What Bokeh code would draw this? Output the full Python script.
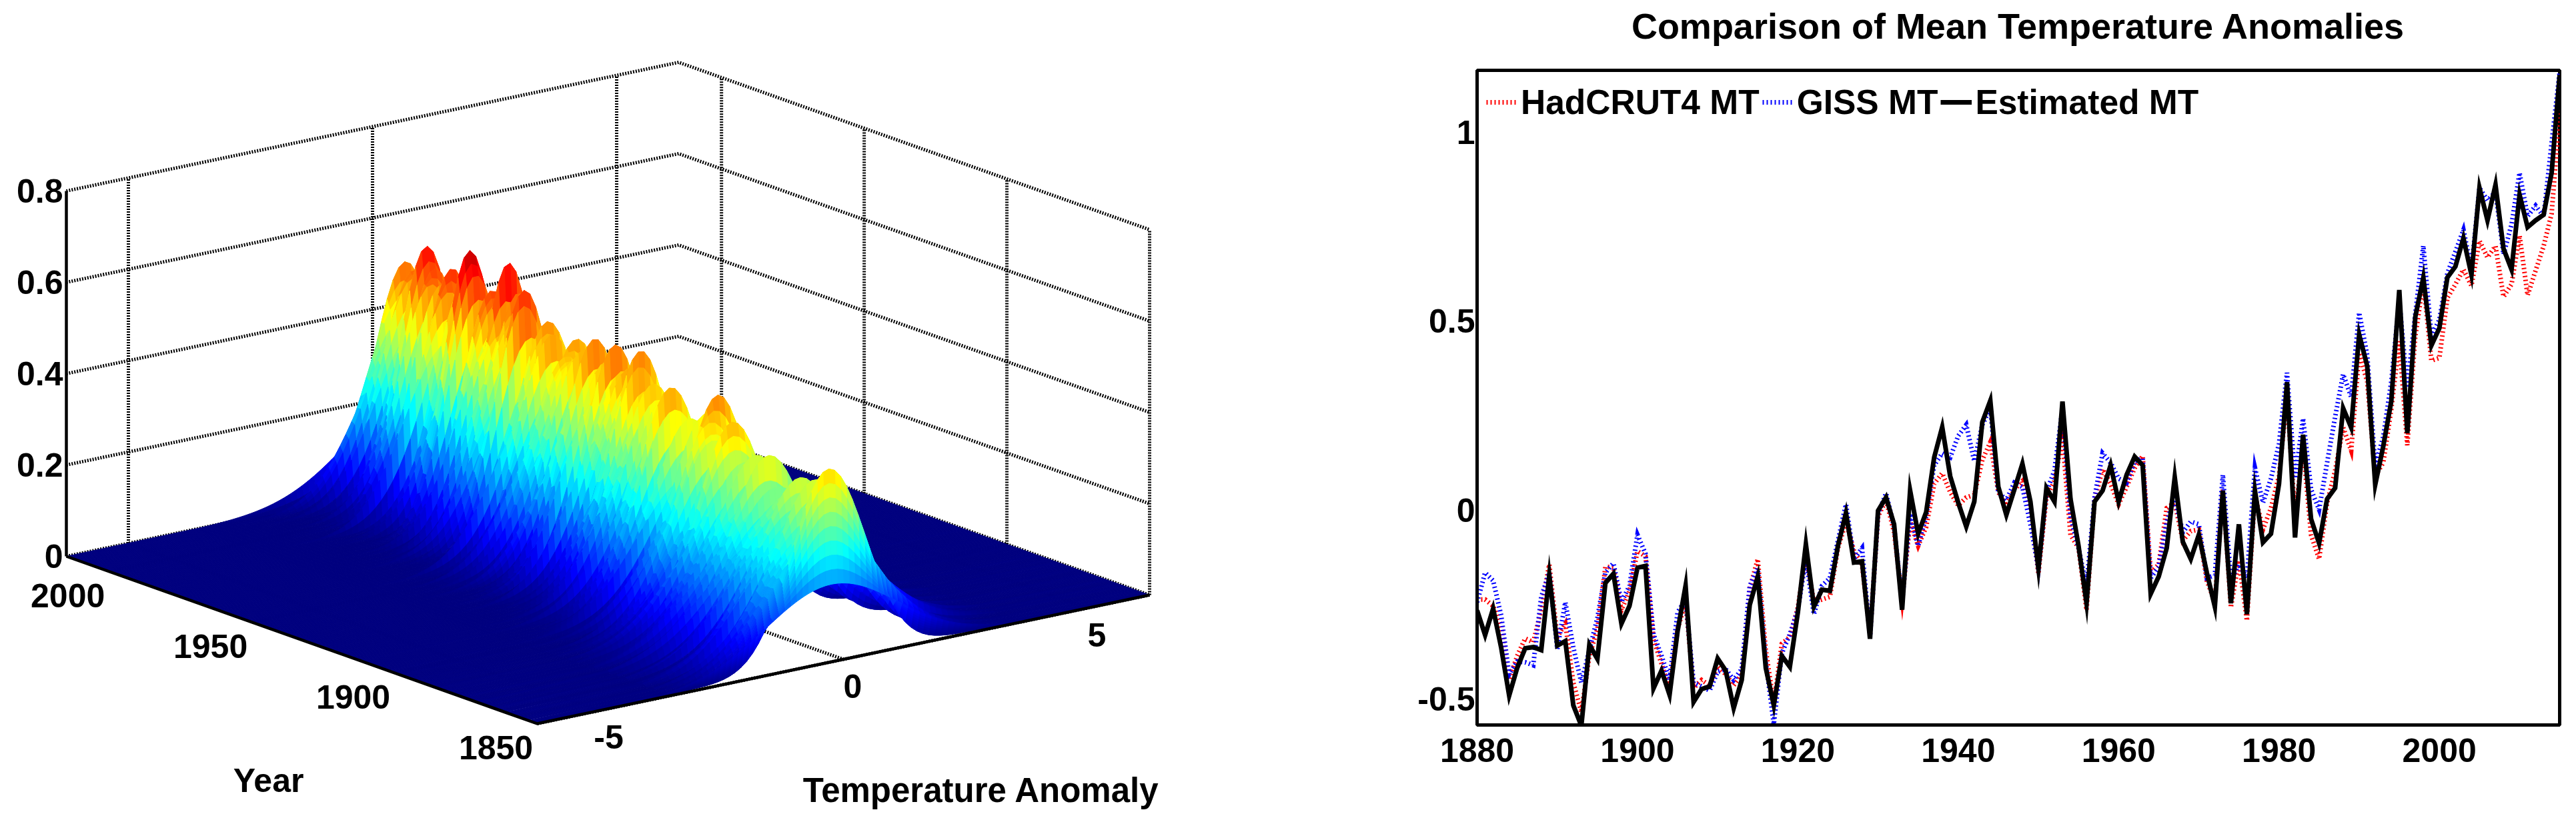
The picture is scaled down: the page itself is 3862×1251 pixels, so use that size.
import numpy as np
from bokeh.plotting import figure
from bokeh.layouts import row, column
from bokeh.core.properties import value
from bokeh.models import Range1d, FixedTicker, Legend, LegendItem, Spacer
from bokeh.embed import file_html
from bokeh.resources import INLINE

FONT = "Liberation Sans"

# ---------- right panel data ----------
mt_years = list(range(1880, 2016))
estimated_mt = [
    -.265,-.33,-.26,-.363,-.49,-.417,-.365,-.362,-.37,-.172,
    -.358,-.346,-.516,-.57,-.356,-.393,-.192,-.168,-.30,-.253,
    -.152,-.147,-.471,-.424,-.488,-.32,-.20,-.507,-.473,-.466,
    -.392,-.424,-.523,-.449,-.25,-.175,-.417,-.516,-.385,-.414,
    -.27,-.09,-.255,-.21,-.213,-.094,-.007,-.138,-.135,-.34,
    -.001,.034,-.037,-.263,.052,-.062,-.005,.14,.22,.09,
    .02,-.043,.023,.233,.29,.062,-.012,.055,.123,.023,
    -.154,.059,.023,.288,.03,-.094,-.246,.023,.052,.119,
    .023,.094,.142,.119,-.221,-.175,-.10,.087,-.083,-.129,
    -.065,-.165,-.255,.052,-.246,-.037,-.275,.052,-.085,-.062,
    .07,.339,-.072,.20,-.023,-.087,.03,.059,.27,.219,
    .465,.382,.068,.169,.288,.583,.204,.512,.616,.436,
    .482,.616,.645,.72,.623,.853,.767,.861,.692,.637,
    .835,.749,.767,.782,.893,1.152]
giss_mt = [
    -.243,-.165,-.186,-.278,-.434,-.40,-.402,-.41,-.229,-.165,
    -.367,-.243,-.363,-.456,-.37,-.285,-.165,-.14,-.243,-.20,
    -.065,-.115,-.328,-.385,-.449,-.27,-.236,-.456,-.466,-.477,
    -.427,-.42,-.449,-.42,-.20,-.154,-.40,-.566,-.378,-.328,
    -.264,-.129,-.275,-.20,-.179,-.08,.016,-.129,-.10,-.335,
    -.009,.045,-.044,-.243,-.009,-.094,-.016,.119,.151,.14,
    .197,.226,.13,.226,.27,.048,.027,.073,.062,-.037,
    -.154,.048,.105,.27,-.016,-.10,-.20,.034,.151,.126,
    .084,.073,.13,.137,-.179,-.15,-.03,.034,-.058,-.03,
    -.037,-.179,-.172,.094,-.186,-.143,-.179,.112,.02,.084,
    .176,.364,.084,.243,.055,.002,.126,.247,.36,.30,
    .523,.41,.119,.194,.34,.555,.324,.52,.70,.461,
    .504,.627,.684,.742,.637,.853,.82,.842,.677,.756,
    .893,.778,.806,.778,.972,1.16]
hadcrut4_mt = [
    -.236,-.236,-.253,-.306,-.449,-.385,-.339,-.349,-.264,-.143,
    -.335,-.30,-.456,-.534,-.385,-.314,-.15,-.15,-.264,-.214,
    -.108,-.122,-.342,-.406,-.477,-.314,-.243,-.47,-.449,-.463,
    -.413,-.434,-.463,-.434,-.207,-.129,-.37,-.512,-.353,-.335,
    -.257,-.115,-.243,-.236,-.229,-.10,-.03,-.108,-.143,-.328,
    -.016,.027,-.058,-.236,-.03,-.094,-.044,.07,.098,.048,
    .013,.034,.041,.133,.18,.048,.013,.055,.077,.006,
    -.168,.034,.077,.19,-.065,-.10,-.264,.027,.109,.07,
    .016,.062,.112,.144,-.165,-.143,.006,.02,-.08,-.055,
    -.051,-.186,-.243,.055,-.257,-.133,-.292,.041,-.051,.006,
    .091,.302,-.016,.169,-.065,-.129,.02,.105,.219,.158,
    .417,.34,.091,.126,.267,.447,.172,.461,.606,.396,
    .403,.562,.598,.637,.594,.713,.669,.699,.565,.598,
    .727,.569,.634,.699,.785,1.058]
mt_x_ticks = [1880, 1900, 1920, 1940, 1960, 1980, 2000]
mt_y_ticks = [-0.5, 0, 0.5, 1]
mt_y_labels = ["-0.5", "0", "0.5", "1"]

# ---------- left panel data ----------
# peak height of the density ridge of every year, 1850 .. 2015
ridge_height = [
    .17,.42,.30,.27,.31,.26,.30,.382,.28,.24,
    .30,.25,.31,.372,.27,.24,.30,.33,.26,.31,
    .28,.24,.33,.29,.396,.28,.25,.33,.28,.385,
    .27,.33,.25,.36,.30,.27,.38,.44,.30,.26,
    .35,.29,.39,.31,.37,.42,.474,.33,.29,.428,
    .31,.38,.29,.41,.32,.39,.30,.422,.35,.466,
    .33,.41,.30,.43,.35,.31,.42,.33,.45,.36,
    .43,.34,.479,.38,.45,.35,.50,.39,.46,.35,
    .45,.37,.504,.40,.33,.46,.38,.35,.45,.37,
    .498,.39,.33,.45,.37,.46,.34,.44,.35,.42,
    .33,.41,.43,.46,.36,.474,.34,.43,.45,.36,
    .46,.38,.48,.40,.517,.42,.545,.40,.35,.47,
    .37,.48,.40,.517,.43,.58,.41,.49,.38,.48,
    .51,.39,.488,.44,.536,.59,.41,.50,.38,.49,
    .40,.50,.37,.48,.527,.40,.49,.36,.47,.39,
    .48,.51,.39,.49,.552,.41,.457,.49,.37,.47,
    .485,.38,.34,.42,.493,.20]
# ridge centre for each decade 1850s .. 2010s
decade_center = [-.245,-.19,-.14,-.09,-.04,.01,.065,.115,.17,.22,.27,.32,.375,.425,.48,.53,.58]
# year-to-year shift of the ridge before the temperature series starts, 1850 .. 1879
early_shift = [.0,.0,.0,.0,.0,.0,-.05,.06,-.14,.1,
               -.09,.15,-.06,.05,-.15,.12,-.03,.08,-.1,.06,
               .14,-.08,.05,-.14,.0,.09,-.06,.12,-.09,.03]
year_ticks = [2000, 1950, 1900, 1850]
temp_ticks = [-5, 0, 5]
z_ticks = [0, 0.2, 0.4, 0.6, 0.8]
z_labels = ["0", "0.2", "0.4", "0.6", "0.8"]

# ---------- 3-D view ----------
YEAR_MIN, YEAR_MAX = 1850, 2015
T_MIN, T_MAX = -6.27, 6.27
Z_MAX = 0.8


def project(year, temp, z):
    year, temp, z = np.asarray(year, float), np.asarray(temp, float), np.asarray(z, float)
    u = (YEAR_MAX - year) / (YEAR_MAX - YEAR_MIN)
    v = (temp - T_MIN) / (T_MAX - T_MIN)
    return 99 + 706 * u + 918 * v, 834 + 251 * u - 193 * v - 548 * z / Z_MAX


def jet(x):
    x = np.clip(x, 0, 1)
    r = np.clip(1.5 - abs(4 * x - 3), 0, 1)
    g = np.clip(1.5 - abs(4 * x - 2), 0, 1)
    b = np.clip(1.5 - abs(4 * x - 1), 0, 1)
    return "#%02x%02x%02x" % (int(r * 255), int(g * 255), int(b * 255))


left = figure(width=2100, height=1251, output_backend="svg", toolbar_location=None,
              x_range=Range1d(0, 2100), y_range=Range1d(1251, 0),
              min_border=0, outline_line_color=None)
left.axis.visible = False
left.grid.visible = False

# walls and floor grid
grid_lines = []
for z in z_ticks:
    grid_lines.append(([YEAR_MAX, YEAR_MAX, YEAR_MIN], [T_MIN, T_MAX, T_MAX], [z, z, z]))
for t in temp_ticks:
    grid_lines.append(([YEAR_MAX, YEAR_MAX], [t, t], [0, Z_MAX]))
    grid_lines.append(([YEAR_MAX, YEAR_MIN], [t, t], [0, 0]))
for y in year_ticks:
    grid_lines.append(([y, y], [T_MAX, T_MAX], [0, Z_MAX]))
    grid_lines.append(([y, y], [T_MIN, T_MAX], [0, 0]))
for yy, tt, zz in grid_lines:
    a, b = project(yy, tt, zz)
    left.line(list(a), list(b), line_color="black", line_width=5, line_dash=[2, 2])

# surface, painted from the back to the front
years = np.arange(YEAR_MIN, YEAR_MAX + 1)
heights = np.array(ridge_height)
decade_values = np.repeat(decade_center, 10)[:len(years)]
mt = np.array(estimated_mt)
year_shift = np.concatenate([early_shift, mt - np.repeat([mt[k:k + 10].mean() for k in range(0, 136, 10)], 10)[:136]])
centers = decade_values + year_shift
temps = np.concatenate([[T_MIN], np.arange(-3.6, 3.61, 0.12), [T_MAX]])
# each year is a density bell: the lower the ridge, the wider it is
sigmas = np.minimum(1.35, 0.8 / (heights * np.sqrt(2 * np.pi)))[:, None]
Z = heights[:, None] * np.exp(-(temps[None, :] - centers[:, None]) ** 2 / (2 * sigmas ** 2))
# sub-strips so that the colour follows the height
sub_t = np.concatenate([np.arange(0, 2, 0.125), np.arange(2, len(years) - 1 + 1e-9, 0.5)])
i0 = np.minimum(sub_t.astype(int), len(years) - 2)
w = (sub_t - i0)[:, None]
Zf = Z[i0] * (1 - w) + Z[i0 + 1] * w
Yf = (years[i0] + w[:, 0])[:, None]
PX, PY = project(Yf, temps[None, :], Zf)
xs, ys, cols = [], [], []
for i in range(len(sub_t) - 2, -1, -1):
    for j in range(len(temps) - 2, -1, -1):
        xs.append([PX[i, j], PX[i, j + 1], PX[i + 1, j + 1], PX[i + 1, j]])
        ys.append([PY[i, j], PY[i, j + 1], PY[i + 1, j + 1], PY[i + 1, j]])
        cols.append(jet((Zf[i, j] + Zf[i, j + 1] + Zf[i + 1, j] + Zf[i + 1, j + 1]) / 4 / 0.62))
left.patches(xs, ys, fill_color=cols, line_color=cols, line_width=1)

# box edges
for yy, tt, zz in [([YEAR_MAX, YEAR_MIN, YEAR_MIN], [T_MIN, T_MIN, T_MAX], [0, 0, 0]),
                   ([YEAR_MAX, YEAR_MAX], [T_MIN, T_MIN], [0, Z_MAX])]:
    a, b = project(yy, tt, zz)
    left.line(list(a), list(b), line_color="black", line_width=4.5, line_join="miter")

txt = dict(text_font=value(FONT), text_font_style="bold", text_font_size="50px", text_color="black")
a, b = project(year_ticks, [T_MIN] * 4, [0] * 4)
left.text(list(a), list(b), text=[str(v) for v in year_ticks], x_offset=-62, y_offset=36,
          text_align="center", text_baseline="middle", **txt)
a, b = project([YEAR_MIN] * 3, temp_ticks, [0] * 3)
left.text(list(a), list(b), text=[str(v) for v in temp_ticks], x_offset=14, y_offset=40,
          text_align="center", text_baseline="middle", **txt)
a, b = project([YEAR_MAX] * 5, [T_MIN] * 5, z_ticks)
left.text(list(a), list(b), text=z_labels, x_offset=-5, y_offset=0,
          text_align="right", text_baseline="middle", **txt)
a, b = project([1925], [T_MIN], [0])
left.text(list(a), list(b), text=["Year"], x_offset=-82, y_offset=200,
          text_align="center", text_baseline="middle", **txt)
a, b = project([YEAR_MIN], [3.0], [0])
left.text(list(a), list(b), text=["Temperature Anomaly"], x_offset=-13, y_offset=243,
          text_align="center", text_baseline="middle",
          **{**txt, "text_font_size": "51px"})

# ---------- right panel ----------
right = figure(width=1762, height=1240, output_backend="svg", toolbar_location=None,
               x_range=Range1d(1880, 2015), y_range=Range1d(-0.568, 1.164),
               min_border_left=114, min_border_right=25, min_border_top=104, min_border_bottom=154,
               title="Comparison of Mean Temperature Anomalies\n",
               outline_line_color="black", outline_line_width=5)
right.title.align = "center"
right.title.text_font = FONT
right.title.text_font_style = "bold"
right.title.text_font_size = "54px"
right.title.text_color = "black"
right.title.text_line_height = 0.6
right.title.standoff = 2
right.grid.visible = False
for ax in (right.xaxis[0], right.yaxis[0]):
    ax.major_tick_line_color = None
    ax.minor_tick_line_color = None
    ax.axis_line_color = "black"
    ax.axis_line_width = 5
    ax.major_label_text_font = FONT
    ax.major_label_text_font_style = "bold"
    ax.major_label_text_font_size = "50px"
    ax.major_label_text_color = "black"
right.xaxis[0].ticker = FixedTicker(ticks=mt_x_ticks)
right.xaxis[0].major_label_standoff = 14
right.yaxis[0].ticker = FixedTicker(ticks=mt_y_ticks)
right.yaxis[0].major_label_overrides = dict(zip(mt_y_ticks, mt_y_labels))
right.yaxis[0].major_label_standoff = -3
right.yaxis[0].major_label_orientation = "horizontal"

r1 = right.line(mt_years, hadcrut4_mt, line_color="#ff0000", line_width=7, line_dash=[2, 4], line_join="miter")
r2 = right.line(mt_years, giss_mt, line_color="#0000ff", line_width=7, line_dash=[2, 4], line_join="miter")
r3 = right.line(mt_years, estimated_mt, line_color="black", line_width=7, line_join="miter")
legend = Legend(items=[LegendItem(label="HadCRUT4 MT", renderers=[r1]),
                       LegendItem(label="GISS MT", renderers=[r2]),
                       LegendItem(label="Estimated MT", renderers=[r3])],
                orientation="horizontal", location=(14, 904), border_line_color=None,
                background_fill_alpha=0, padding=8, margin=0, spacing=4,
                glyph_width=47, glyph_height=40, label_standoff=5,
                label_text_font=FONT, label_text_font_style="bold",
                label_text_font_size="51.5px", label_text_color="black", label_height=50)
right.add_layout(legend)

page = row(left, column(Spacer(width=1762, height=1), right, spacing=0), spacing=0)
open("out.html", "w").write(file_html(page, INLINE))
